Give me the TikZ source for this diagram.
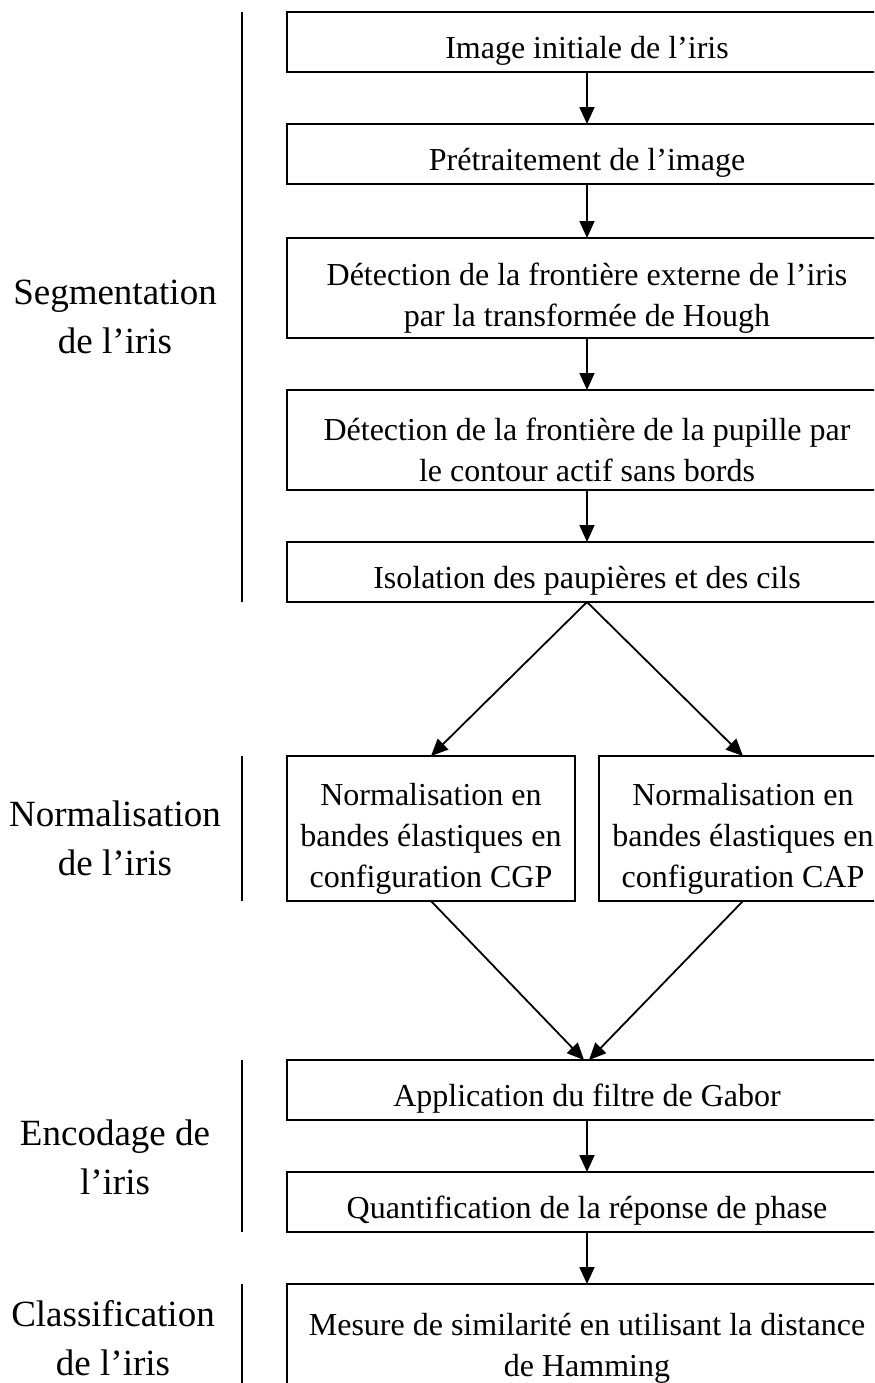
\documentclass[tikz,border=0pt]{standalone}
\usepackage{fontspec}
\setmainfont{Liberation Serif}
\usetikzlibrary{arrows.meta, positioning, calc}

\begin{document}
\begin{tikzpicture}[
    font=\fontsize{16}{20.5}\selectfont,
    >={Triangle[length=8.5pt,width=7.5pt]},
    node distance=26pt,
    block/.style={draw, line width=0.9pt, outer sep=0pt, align=center, minimum width=300pt, minimum height=30pt, inner sep=2pt,
        execute at begin node={\rule{0pt}{20pt}}},
    blockTall/.style={block, minimum height=50pt, execute at begin node={\rule{0pt}{41.5pt}}},
    branch/.style={block, minimum width=144pt, minimum height=72.5pt, execute at begin node={\rule{0pt}{62pt}}},
    phase/.style={align=center, font=\fontsize{18.5}{24.5}\selectfont},
    bar/.style={line width=0.6pt},
    line/.style={->, line width=0.9pt}
]

% Frame (boxes run past the right and bottom edges)
\useasboundingbox (0,0) rectangle (437pt,-691.5pt);
\clip (0,0) rectangle (437pt,-691.5pt);

% Segmentation
\node[block, anchor=north] (img) at (293.5pt,-6pt) {Image initiale de l'iris};
\node[block, below=of img] (pre) {Prétraitement de l'image};
\node[blockTall, below=27pt of pre] (ext) {Détection de la frontière externe de l'iris\\par la transformée de Hough};
\node[blockTall, below=of ext] (pup) {Détection de la frontière de la pupille par\\le contour actif sans bords};
\node[block, below=of pup] (cils) {Isolation des paupières et des cils};

% Normalisation (two branches)
\node[branch, below=77pt of cils, xshift=-78pt] (cgp) {Normalisation en\\bandes élastiques en\\configuration CGP};
\node[branch, below=77pt of cils, xshift=78pt] (cap) {Normalisation en\\bandes élastiques en\\configuration CAP};

% Encodage
\coordinate (join) at (cgp.south -| cils.south);
\node[block, below=79.5pt of join] (gabor) {Application du filtre de Gabor};
\node[block, below=of gabor] (quant) {Quantification de la réponse de phase};

% Classification
\node[blockTall, below=of quant, minimum height=54pt] (ham) {Mesure de similarité en utilisant la distance\\de Hamming};

% Phase labels
\node[phase] (segL) at (57.5pt,-158.5pt) {Segmentation\\de l'iris};
\node[phase] (normL) at (57.5pt,-419pt) {Normalisation\\de l'iris};
\node[phase] (encL) at (57.5pt,-578.5pt) {Encodage de\\l'iris};
\node[phase] (claL) at (56.5pt,-669pt) {Classification\\de l'iris};

% Side bars
\coordinate (side) at (121pt,0);
\draw[bar] (side |- img.north) -- (side |- cils.south);
\draw[bar] (side |- cgp.north) -- (side |- cgp.south);
\draw[bar] (side |- gabor.north) -- (side |- quant.south);
\draw[bar] (side |- ham.north) -- (side |- ham.south);

% Connections
\draw[line] (img) -- (pre);
\draw[line] (pre) -- (ext);
\draw[line] (ext) -- (pup);
\draw[line] (pup) -- (cils);

\draw[line] (cils.south) -- (cgp.north);
\draw[line] (cils.south) -- (cap.north);

\draw[line] (cgp.south) -- ([xshift=-1.5pt]gabor.north);
\draw[line] (cap.south) -- ([xshift=1pt]gabor.north);

\draw[line] (gabor) -- (quant);
\draw[line] (quant) -- (ham);

\end{tikzpicture}
\end{document}
